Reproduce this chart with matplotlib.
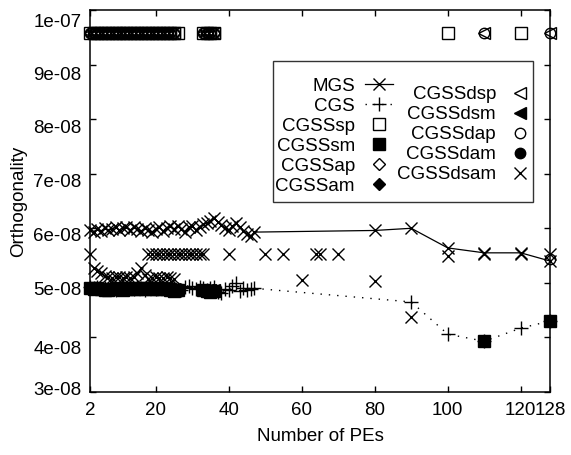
import numpy as np
import matplotlib
matplotlib.use("Agg")
import matplotlib.pyplot as plt
from matplotlib.patches import Rectangle
from matplotlib.transforms import ScaledTranslation

fs = 13.5
plt.rcParams['font.family'] = ['Liberation Sans', 'DejaVu Sans']
plt.rcParams['font.size'] = fs

# -----------------------------
# data (orthogonality in units of 1e-8)
# -----------------------------
x_dense = list(range(2, 48))
x_tail = [80, 90, 100, 110, 120, 128]

mgs_dense = [5.97, 5.94, 5.98, 5.95, 6.00, 5.96, 5.99, 6.02, 5.96, 6.01, 6.03, 5.97,
             6.02, 5.98, 5.95, 6.00, 5.96, 5.93, 5.99, 6.02, 5.95, 6.01, 6.04, 5.98,
             6.05, 5.99, 5.94, 6.02, 6.05, 5.97, 6.03, 6.07, 6.10, 6.14, 6.18, 6.12,
             6.06, 6.01, 5.96, 6.04, 6.09, 6.02, 5.95, 5.89, 5.85, 5.93]
mgs_tail = [5.96, 6.00, 5.64, 5.55, 5.55, 5.40]

cgs_dense = [4.92, 4.90, 4.93, 4.88, 4.91, 4.89, 4.92, 4.87, 4.90, 4.93, 4.88, 4.91,
             4.89, 4.92, 4.90, 4.87, 4.91, 4.93, 4.89, 4.92, 4.90, 4.88, 4.93, 4.91,
             4.89, 4.86, 4.92, 4.95, 4.90, 4.88, 4.93, 4.91, 4.87, 4.90, 4.92, 4.84,
             4.82, 4.88, 4.86, 4.95, 4.99, 4.85, 4.90, 4.87, 4.88, 4.90]
cgs_tail_x = [90, 100, 110, 120, 128]
cgs_tail = [4.65, 4.06, 3.93, 4.17, 4.30]

# CGSS variants run on 2..25 and 33..36 PEs
x_cgss = [2, 3, 4, 5, 6, 7, 8, 9, 10, 11, 12, 13, 14, 15, 16, 17, 18, 19, 20, 21,
          22, 23, 24, 25, 33, 34, 35, 36]
top_level = [9.57, 9.57, 9.57, 9.57, 9.57, 9.57, 9.57, 9.57, 9.57, 9.57, 9.57, 9.57,
             9.57, 9.57, 9.57, 9.57, 9.57, 9.57, 9.57, 9.57, 9.57, 9.57, 9.57, 9.57,
             9.57, 9.57, 9.57, 9.57]

sp_x = x_cgss + [26, 100, 120]
sp_y = top_level + [9.57, 9.57, 9.57]
sm_x = x_cgss + [26, 110, 128]
sm_y = [4.90, 4.88, 4.91, 4.89, 4.87, 4.86, 4.88, 4.90, 4.89, 4.87, 4.88, 4.90,
        4.89, 4.88, 4.90, 4.89, 4.91, 4.88, 4.89, 4.90, 4.88, 4.89, 4.86, 4.85,
        4.86, 4.85, 4.84, 4.85, 4.86, 3.93, 4.30]
ap_x = x_cgss
ap_y = top_level
am_x = x_cgss
am_y = [4.89, 4.90, 4.88, 4.87, 4.86, 4.88, 4.89, 4.90, 4.88, 4.87, 4.89, 4.90,
        4.88, 4.89, 4.90, 4.88, 4.89, 4.90, 4.88, 4.89, 4.90, 4.89, 4.88, 4.87,
        4.87, 4.86, 4.85, 4.86]
dsp_x = x_cgss + [110, 128]
dsp_y = top_level + [9.57, 9.57]
dsm_x = x_cgss
dsm_y = [4.90, 4.89, 4.88, 4.88, 4.87, 4.87, 4.88, 4.89, 4.89, 4.88, 4.89, 4.90,
         4.89, 4.88, 4.89, 4.90, 4.89, 4.88, 4.89, 4.89, 4.90, 4.88, 4.88, 4.88,
         4.86, 4.86, 4.86, 4.87]
dap_x = x_cgss + [110, 128, 128]
dap_y = top_level + [9.57, 9.57, 5.44]
dam_x = x_cgss
dam_y = [4.91, 4.89, 4.88, 4.86, 4.86, 4.87, 4.88, 4.89, 4.90, 4.88, 4.88, 4.89,
         4.90, 4.89, 4.88, 4.89, 4.90, 4.89, 4.88, 4.89, 4.90, 4.89, 4.88, 4.88,
         4.87, 4.86, 4.86, 4.87]
dsam_x = [2, 18, 19, 20, 21, 22, 23, 24, 25, 26, 27, 28, 29, 30, 31, 32, 33, 40,
          50, 55, 64, 65, 70, 100, 110, 120, 128,
          3, 4, 5, 6, 7, 8, 9, 10, 11, 12, 13, 14, 15, 16, 17, 18, 19, 20, 21, 22,
          23, 24, 25, 60, 80, 90]
dsam_y = [5.53, 5.53, 5.53, 5.53, 5.53, 5.53, 5.53, 5.53, 5.53, 5.53, 5.53, 5.53,
          5.53, 5.53, 5.53, 5.53, 5.53, 5.53, 5.53, 5.53, 5.53, 5.53, 5.53, 5.50,
          5.53, 5.53, 5.53,
          5.28, 5.22, 5.18, 5.12, 5.10, 5.09, 5.10, 5.11, 5.09, 5.10, 5.08, 5.10,
          5.18, 5.28, 5.15, 5.07, 5.08, 5.10, 5.09, 5.08, 5.10, 5.08, 5.07, 5.05,
          5.04, 4.38]

xticks = [2, 20, 40, 60, 80, 100, 120, 128]
yticks = [3, 4, 5, 6, 7, 8, 9, 10]
ytick_labels = ['3e-08', '4e-08', '5e-08', '6e-08', '7e-08', '8e-08', '9e-08', '1e-07']
# gnuplot put the y labels a few pixels off their ticks
ylabel_shift_px = [-3, 10, 6, 6, 7, 7, 8.5, 10]

E = 1e-8

# -----------------------------
# figure
# -----------------------------
fig = plt.figure(figsize=(5.71, 4.55), dpi=100)
ax = fig.add_axes([0.1576, 0.1385, 0.8056, 0.8395])

handles = []
h, = ax.plot(x_dense + x_tail, np.array(mgs_dense + mgs_tail) * E, color='k', lw=0.9,
             marker='x', ms=9, mew=1.0, label='MGS', clip_on=False)
handles.append(h)
h, = ax.plot(x_dense + cgs_tail_x, np.array(cgs_dense + cgs_tail) * E, color='k', lw=1.0,
             ls=(0, (1, 5)), marker='+', ms=10, mew=1.0, label='CGS', clip_on=False)
handles.append(h)

point_series = [
    (sp_x, sp_y, 's', 8, 'none', 'CGSSsp'),
    (sm_x, sm_y, 's', 8, 'k', 'CGSSsm'),
    (ap_x, ap_y, 'D', 6.5, 'none', 'CGSSap'),
    (am_x, am_y, 'D', 6.5, 'k', 'CGSSam'),
    (dsp_x, dsp_y, '<', 8.5, 'none', 'CGSSdsp'),
    (dsm_x, dsm_y, '<', 8.5, 'k', 'CGSSdsm'),
    (dap_x, dap_y, 'o', 7.5, 'none', 'CGSSdap'),
    (dam_x, dam_y, 'o', 7.5, 'k', 'CGSSdam'),
    (dsam_x, dsam_y, 'x', 9, 'k', 'CGSSdsam'),
]
for xs, ys, mk, size, fc, name in point_series:
    h, = ax.plot(xs, np.array(ys) * E, ls='none', marker=mk, ms=size, mfc=fc,
                 mec='k', mew=1.0, label=name, clip_on=False)
    handles.append(h)

ax.set_xlim(2, 128)
ax.set_ylim(3e-8, 1e-7)
ax.set_xticks(xticks)
ax.set_xticklabels([str(t) for t in xticks])
ax.set_yticks(np.array(yticks) * E)
ax.set_yticklabels(ytick_labels)
ax.tick_params(direction='in', top=True, right=True, length=4, width=1, labelsize=fs)
ax.tick_params(axis='x', pad=7)
ax.tick_params(axis='y', pad=6)
for s in ax.spines.values():
    s.set_linewidth(1.1)

ax.set_xlabel('Number of PEs', fontsize=fs)
ax.set_ylabel('Orthogonality', fontsize=fs)
ax.xaxis.set_label_coords(0.5, -0.095)
ax.yaxis.set_label_coords(-0.137, 0.5)

# legend: two right-aligned columns inside one frame
fs_px = fs * 100 / 72
item_h = 17.5
leg_kw = dict(frameon=False, markerfirst=False, borderpad=0, borderaxespad=0,
              handlelength=28 / fs_px, handletextpad=10 / fs_px,
              labelspacing=(20.4 - item_h) / fs_px, fontsize=fs,
              loc='upper right', numpoints=1)
top1 = 86.5 - item_h / 2
top2 = 95 - item_h / 2
leg1 = ax.legend(handles=handles[:6], bbox_to_anchor=((393 - 90) / 460, (392 - top1) / 382),
                 **leg_kw)
ax.add_artist(leg1)
ax.legend(handles=handles[6:], bbox_to_anchor=((534 - 90) / 460, (392 - top2) / 382),
          **leg_kw)
ax.add_patch(Rectangle((0.398, 0.497), 0.565, 0.369, transform=ax.transAxes,
                       fill=False, lw=1, ec='#333333', zorder=5))

fig.canvas.draw()
for tick, dy in zip(ax.yaxis.get_major_ticks(), ylabel_shift_px):
    lab = tick.label1
    lab.set_transform(lab.get_transform() + ScaledTranslation(0, -dy / 100, fig.dpi_scale_trans))

fig.savefig('out.png', dpi=100)
